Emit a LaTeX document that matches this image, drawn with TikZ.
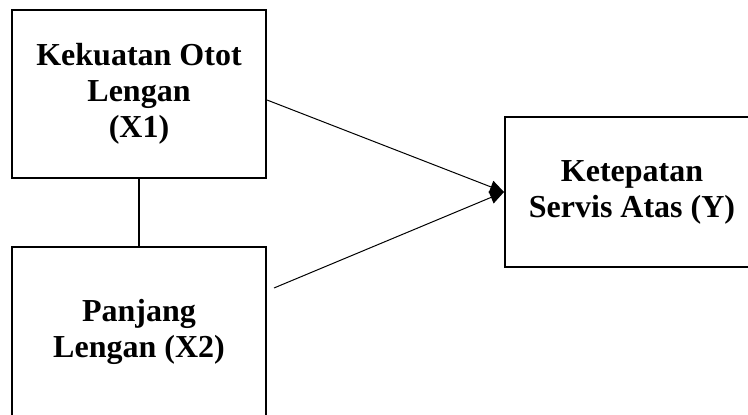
\documentclass[tikz,border=0pt]{standalone}
\usepackage{fontspec}
\setmainfont{Liberation Serif}
\usetikzlibrary{arrows.meta}

\begin{document}
\begin{tikzpicture}[x=1pt, y=-1pt,
    varbox/.style={rectangle, draw, line width=2pt, minimum width=254pt, align=center, font=\fontsize{32}{36}\selectfont\bfseries, inner sep=0pt},
    arrow/.style={-{Triangle[length=14pt,width=13pt]}, line width=1pt}]
    \useasboundingbox (0,0) rectangle (748,415);
    \clip (0,0) rectangle (748,415);
    \node[varbox, minimum height=168pt] (X1) at (139, 94) {Kekuatan Otot\\Lengan\\(X1)};
    \node[varbox, minimum height=170pt] (X2) at (139, 332) {Panjang\\Lengan (X2)};
    \node[varbox, minimum height=150pt] (Y) at (632, 192) {Ketepatan\\Servis Atas (Y)};
    \draw[line width=2pt] (X1.south) -- (X2.north);
    \draw[arrow] ([yshift=-6pt]X1.east) -- (Y.west);
    \draw[arrow] ([shift={(7pt,44pt)}]X2.east) -- (Y.west);
\end{tikzpicture}
\end{document}
